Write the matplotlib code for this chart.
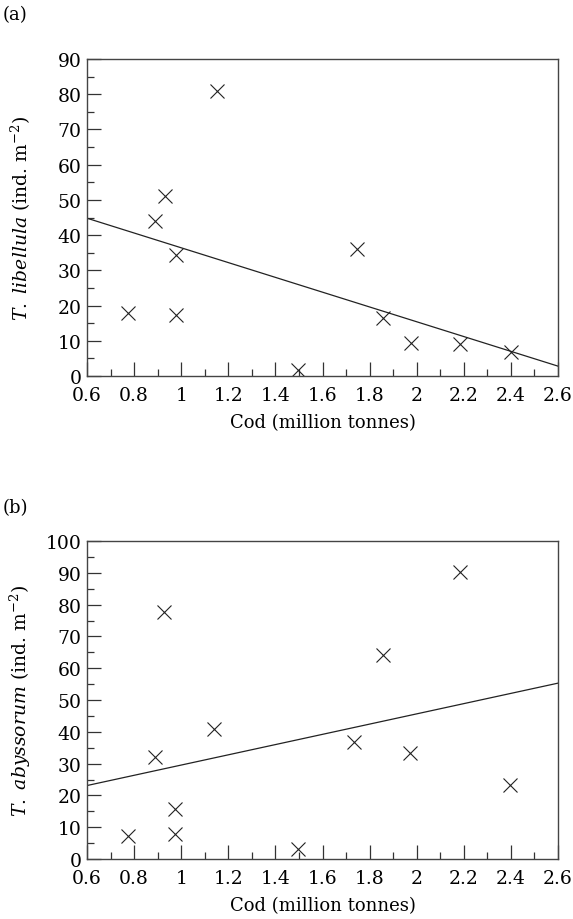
import matplotlib
matplotlib.use("Agg")
import matplotlib.pyplot as plt
from matplotlib.ticker import MultipleLocator

plt.rcParams["font.family"] = "DejaVu Serif"
plt.rcParams["mathtext.fontset"] = "dejavuserif"

# Cod stock (million tonnes) per year, same for both panels
cod_a = [0.775, 0.89, 0.93, 0.98, 0.98, 1.15, 1.495, 1.745, 1.855, 1.975, 2.185, 2.40]
libellula = [18.0, 44.0, 51.0, 34.3, 17.2, 81.0, 1.7, 36.0, 16.5, 9.5, 9.2, 6.9]
libellula_fit = [44.8, 2.8]  # regression line at x = 0.6 and 2.6

cod_b = [0.775, 0.888, 0.925, 0.975, 0.975, 1.14, 1.495, 1.735, 1.855, 1.97, 2.185, 2.395]
abyssorum = [7.2, 32.2, 77.6, 15.8, 8.0, 41.0, 3.2, 36.9, 64.1, 33.2, 90.4, 23.4]
abyssorum_fit = [23.1, 55.3]

fit_x = [0.6, 2.6]
xticks = [0.6, 0.8, 1, 1.2, 1.4, 1.6, 1.8, 2, 2.2, 2.4, 2.6]

fig = plt.figure(figsize=(5.73, 9.2), dpi=100)
ax_a = fig.add_axes([87 / 573, 1 - 377 / 920, 471 / 573, 317 / 920])
ax_b = fig.add_axes([87 / 573, 1 - 860 / 920, 471 / 573, 318 / 920])

panels = [
    (ax_a, cod_a, libellula, libellula_fit, 90, r"$\it{T.\ libellula}$ (ind. m$^{-2}$)", "(a)", 15),
    (ax_b, cod_b, abyssorum, abyssorum_fit, 100, r"$\it{T.\ abyssorum}$ (ind. m$^{-2}$)", "(b)", 508),
]

for ax, x, y, fit, ymax, ylabel, tag, tag_y in panels:
    ax.plot(x, y, "x", color="#222222", ms=10, mew=0.8)
    ax.plot(fit_x, fit, color="#222222", lw=0.9)
    ax.set_xlim(0.6, 2.6)
    ax.set_ylim(0, ymax)
    ax.set_xticks(xticks)
    ax.set_xticklabels([f"{t:g}" for t in xticks])
    ax.xaxis.set_minor_locator(MultipleLocator(0.1))
    ax.yaxis.set_major_locator(MultipleLocator(10))
    ax.yaxis.set_minor_locator(MultipleLocator(5))
    ax.tick_params(which="both", direction="in", top=False, right=False,
                   color="#333333", width=0.9, labelsize=13.5)
    ax.tick_params(axis="x", pad=7)
    ax.tick_params(axis="y", pad=4)
    ax.tick_params(which="major", length=10)
    ax.tick_params(which="minor", length=5)
    for s in ax.spines.values():
        s.set_color("#444444")
        s.set_linewidth(1.0)
    ax.set_xlabel("Cod (million tonnes)", fontsize=13, labelpad=7)
    ax.set_ylabel(ylabel, fontsize=13.5)
    ax.yaxis.set_label_coords(-0.115, 0.5)
    fig.text(3 / 573, 1 - tag_y / 920, tag, fontsize=13, va="center", ha="left")

fig.savefig("out.png", dpi=100)
